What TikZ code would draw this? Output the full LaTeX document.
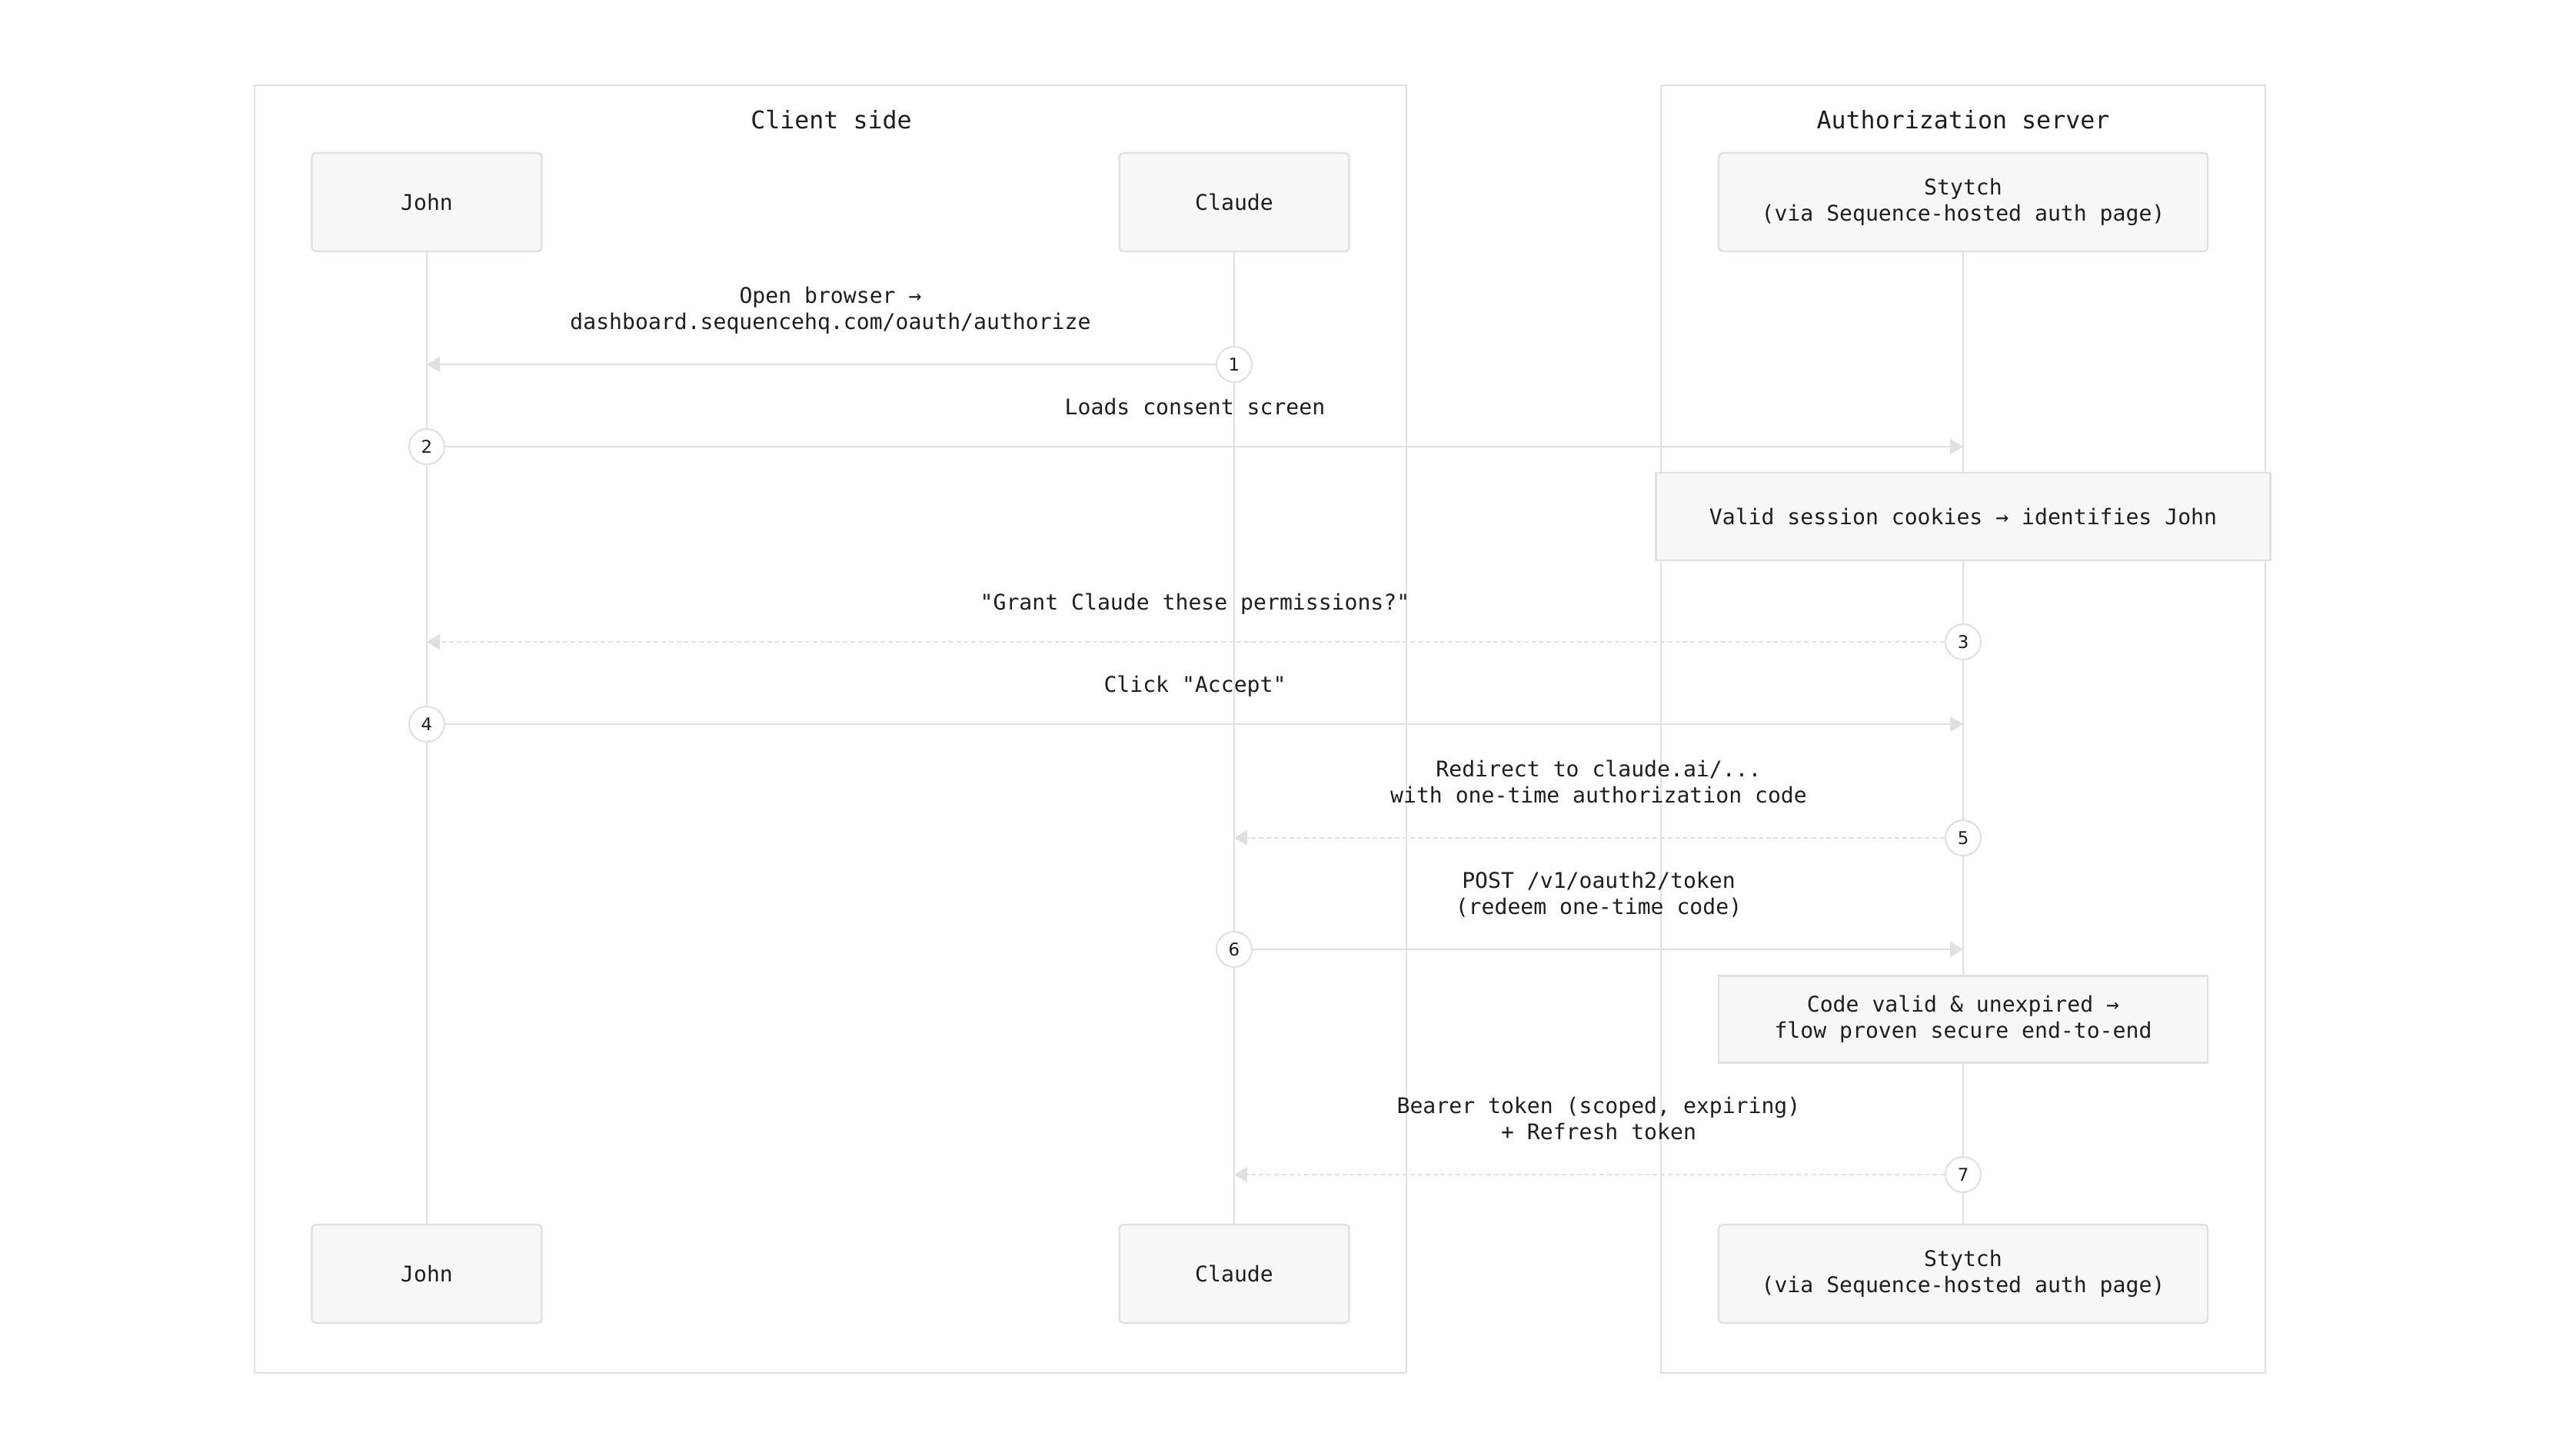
\documentclass[tikz,border=0pt]{standalone}
\usepackage{fontspec}
\setmonofont{DejaVu Sans Mono}
\newfontfamily\numfont{DejaVu Sans}
\usetikzlibrary{arrows.meta,positioning,calc}

\definecolor{linegray}{HTML}{E0E0E0}
\definecolor{boxfill}{HTML}{F7F7F7}
\definecolor{inkgray}{HTML}{1E1E1E}

\begin{document}
\begin{tikzpicture}[
      font=\ttfamily\fontsize{8pt}{9.7pt}\selectfont,
      text=inkgray,
      actor/.style={
        draw=linegray,
        fill=boxfill,
        line width=0.7pt,
        rounded corners=1.5pt,
        minimum width=2.99cm,
        minimum height=1.28cm,
        align=center
      },
      wideactor/.style={actor, minimum width=6.36cm},
      notebox/.style={
        draw=linegray,
        fill=boxfill,
        line width=0.7pt,
        minimum height=1.14cm,
        align=center
      },
      frame/.style={draw=linegray, line width=0.5pt},
      title/.style={font=\ttfamily\fontsize{9pt}{11pt}\selectfont},
      life/.style={draw=linegray, line width=0.6pt},
      stepnum/.style={
        circle,
        draw=linegray,
        fill=white,
        line width=0.6pt,
        minimum size=0.46cm,
        inner sep=0pt,
        font=\numfont\fontsize{6.5pt}{7pt}\selectfont
      },
      msg/.style={draw=linegray, line width=0.8pt, -{Triangle[length=4.8pt, width=5.6pt]}},
      reply/.style={msg, dash pattern=on 1.7pt off 1.1pt},
      msglbl/.style={align=center, anchor=south, inner sep=0pt, text depth=0pt}
    ]

    \useasboundingbox (0,0) rectangle (33.5,-18.84);

    % Frames
    \draw[frame] (3.31,-1.11) rectangle (18.29,-17.86);
    \draw[frame] (21.60,-1.11) rectangle (29.46,-17.86);
    \node[title] (clientTitle) at (10.81,-1.56) {Client side};
    \node[title] (authTitle) at (25.53,-1.56) {Authorization server};

    % Participants
    \node[actor] (john) at (5.55,-2.63) {John};
    \node[actor] (claude) at (16.05,-2.63) {Claude};
    \node[wideactor] (stytch) at (25.53,-2.63) {Stytch\\(via Sequence-hosted auth page)};
    \node[actor] (johnEnd) at (5.55,-16.57) {John};
    \node[actor] (claudeEnd) at (16.05,-16.57) {Claude};
    \node[wideactor] (stytchEnd) at (25.53,-16.57) {Stytch\\(via Sequence-hosted auth page)};

    % Lifelines
    \draw[life] (john) -- (johnEnd);
    \draw[life] (claude) -- (claudeEnd);
    \draw[life] (stytch) -- (stytchEnd);

    % Notes on the server
    \node[notebox, minimum width=7.99cm] (sessionNote) at (25.53,-6.72) {Valid session cookies → identifies John};
    \node[notebox, minimum width=6.36cm, minimum height=1.13cm] (codeNote) at (25.53,-13.26) {Code valid \& unexpired →\\flow proven secure end-to-end};

    % Step markers and arrow ends
    \node[stepnum] (s1) at (16.05,-4.74) {1};
    \coordinate (t1) at (5.55,-4.74);
    \node[stepnum] (s2) at (5.55,-5.81) {2};
    \coordinate (t2) at (25.53,-5.81);
    \node[stepnum] (s3) at (25.53,-8.35) {3};
    \coordinate (t3) at (5.55,-8.35);
    \node[stepnum] (s4) at (5.55,-9.42) {4};
    \coordinate (t4) at (25.53,-9.42);
    \node[stepnum] (s5) at (25.53,-10.90) {5};
    \coordinate (t5) at (16.05,-10.90);
    \node[stepnum] (s6) at (16.05,-12.35) {6};
    \coordinate (t6) at (25.53,-12.35);
    \node[stepnum] (s7) at (25.53,-15.28) {7};
    \coordinate (t7) at (16.05,-15.28);

    % Messages
    \draw[msg] (s1) -- (t1);
    \draw[msg] (s2) -- (t2);
    \draw[reply] (s3) -- (t3);
    \draw[msg] (s4) -- (t4);
    \draw[reply] (s5) -- (t5);
    \draw[msg] (s6) -- (t6);
    \draw[reply] (s7) -- (t7);

    % Message labels
    \node[msglbl] (m1) at ($(s1)!0.5!(t1)+(0,0.45)$) {Open browser →\\dashboard.sequencehq.com/oauth/authorize};
    \node[msglbl] (m2) at ($(s2)!0.5!(t2)+(0,0.41)$) {Loads consent screen};
    \node[msglbl] (m3) at ($(s3)!0.5!(t3)+(0,0.41)$) {"Grant Claude these permissions?"};
    \node[msglbl] (m4) at ($(s4)!0.5!(t4)+(0,0.41)$) {Click "Accept"};
    \node[msglbl] (m5) at ($(s5)!0.5!(t5)+(0,0.45)$) {Redirect to claude.ai/...\\with one-time authorization code};
    \node[msglbl] (m6) at ($(s6)!0.5!(t6)+(0,0.45)$) {POST /v1/oauth2/token\\(redeem one-time code)};
    \node[msglbl] (m7) at ($(s7)!0.5!(t7)+(0,0.45)$) {Bearer token (scoped, expiring)\\+ Refresh token};

    \end{tikzpicture}
\end{document}
